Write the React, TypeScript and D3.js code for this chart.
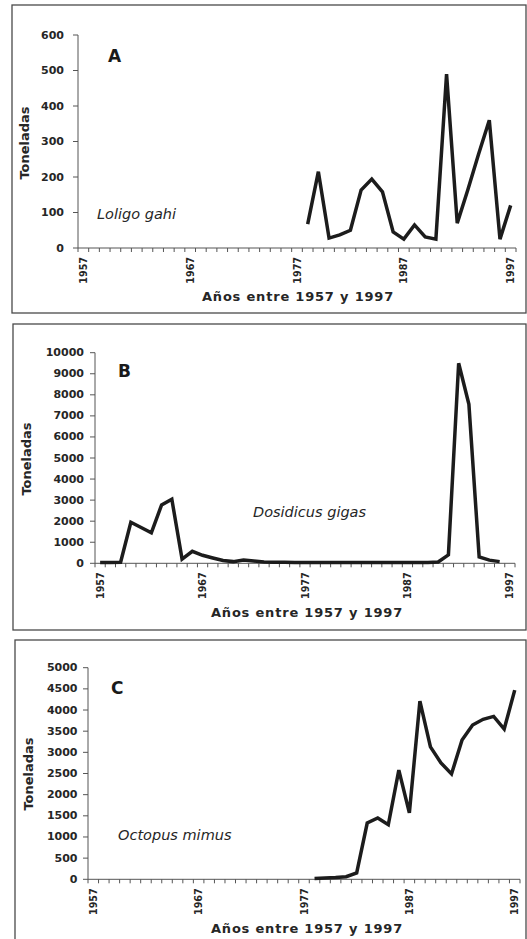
import React from "react";
import * as d3 from "d3";

// categories (one per year)
const years = [
  1957, 1958, 1959, 1960, 1961, 1962, 1963, 1964, 1965, 1966, 1967, 1968, 1969,
  1970, 1971, 1972, 1973, 1974, 1975, 1976, 1977, 1978, 1979, 1980, 1981, 1982,
  1983, 1984, 1985, 1986, 1987, 1988, 1989, 1990, 1991, 1992, 1993, 1994, 1995,
  1996, 1997
];
const yearLabels = [1957, 1967, 1977, 1987, 1997];

// Toneladas por año (null = sin dato)
const loligoTons = [
  null, null, null, null, null, null, null, null, null, null, null, null, null,
  null, null, null, null, null, null, null, null,
  67, 215, 28, 37, 50, 163, 194, 158, 45, 25, 65, 31, 25, 490, 70, 165, 265,
  360, 25, 120
];
const dosidicusTons = [
  40, 40, 50, 1950, 1700, 1450, 2770, 3040, 200, 570, 380, 250, 130, 80, 160,
  110, 60, 50, 50, 40, 40, 40, 40, 40, 40, 40, 40, 40, 40, 40, 40, 40, 40, 60,
  400, 9500, 7550, 300, 150, 80, null
];
const octopusTons = [
  null, null, null, null, null, null, null, null, null, null, null, null, null,
  null, null, null, null, null, null, null, null,
  20, 30, 40, 60, 150, 1330, 1450, 1290, 2580, 1570, 4210, 3130, 2750, 2490,
  3290, 3645, 3780, 3850, 3550, 4470
];

const panelLetters = ["A", "B", "C"];
const speciesNames = ["Loligo gahi", "Dosidicus gigas", "Octopus mimus"];
const yTicksA = [0, 100, 200, 300, 400, 500, 600];
const yTicksB = [0, 1000, 2000, 3000, 4000, 5000, 6000, 7000, 8000, 9000, 10000];
const yTicksC = [0, 500, 1000, 1500, 2000, 2500, 3000, 3500, 4000, 4500, 5000];
const xTitle = "Años entre 1957 y 1997";
const yTitle = "Toneladas";

const boldFont = "'DejaVu Sans', sans-serif";
const ink = "#262626";

const panels = [
  {
    data: loligoTons, ticks: yTicksA,
    box: { x: 12, y: 5, w: 514, h: 308 },
    left: 78, right: 516, top: 35, bottom: 248, labelGap: 9,
    yTitleX: 24, yTitleY: 143, letterX: 108, letterY: 62,
    speciesX: 97, speciesY: 219, xTitleX: 298, xTitleY: 301
  },
  {
    data: dosidicusTons, ticks: yTicksB,
    box: { x: 13, y: 324, w: 513, h: 306 },
    left: 95, right: 515, top: 352.7, bottom: 563.3, labelGap: 6,
    yTitleX: 26, yTitleY: 459, letterX: 118, letterY: 377,
    speciesX: 253, speciesY: 517, xTitleX: 307, xTitleY: 617
  },
  {
    data: octopusTons, ticks: yTicksC,
    box: { x: 15, y: 640, w: 511, h: 310 },
    left: 88, right: 520, top: 667.7, bottom: 879.3, labelGap: 5.5,
    yTitleX: 28, yTitleY: 774, letterX: 111, letterY: 694,
    speciesX: 118, speciesY: 840, xTitleX: 307, xTitleY: 933
  }
];

function Panel({ p, letter, species }) {
  const x = d3.scaleBand().domain(years).range([p.left, p.right]).padding(0);
  const bw = x.bandwidth();
  const cx = (yr) => x(yr) + bw / 2;
  const y = d3
    .scaleLinear()
    .domain([0, p.ticks[p.ticks.length - 1]])
    .range([p.bottom, p.top]);

  const line = d3
    .line()
    .defined((d) => d != null)
    .x((d, i) => cx(years[i]))
    .y((d) => y(d));

  const boundaries = years.map((yr) => x(yr)).concat([p.right]);

  return (
    <g>
      <rect
        x={p.box.x}
        y={p.box.y}
        width={p.box.w}
        height={p.box.h}
        fill="none"
        stroke="#4a4a4a"
        strokeWidth={1.3}
      />

      {/* y axis */}
      <line x1={p.left} x2={p.left} y1={p.top} y2={p.bottom} stroke="#555" strokeWidth={1} />
      {p.ticks.map((t) => (
        <g key={t}>
          <line x1={p.left - 5} x2={p.left} y1={y(t)} y2={y(t)} stroke="#555" strokeWidth={1} />
          <text
            x={p.left - 5 - p.labelGap}
            y={y(t)}
            textAnchor="end"
            dominantBaseline="central"
            fontFamily={boldFont}
            fontWeight="bold"
            fontSize={11}
            fill={ink}
          >
            {t}
          </text>
        </g>
      ))}

      {/* x axis */}
      <line x1={p.left} x2={p.right} y1={p.bottom} y2={p.bottom} stroke="#555" strokeWidth={1} />
      {boundaries.map((bx, i) => (
        <line key={i} x1={bx} x2={bx} y1={p.bottom} y2={p.bottom + 4} stroke="#555" strokeWidth={1} />
      ))}
      {yearLabels.map((yr) => (
        <text
          key={yr}
          transform={`translate(${cx(yr)},${p.bottom + 9}) rotate(-90)`}
          textAnchor="end"
          dominantBaseline="central"
          fontFamily={boldFont}
          fontWeight="bold"
          fontSize={9.6}
          fill={ink}
        >
          {yr}
        </text>
      ))}

      <path d={line(p.data)} fill="none" stroke="#1c1c1c" strokeWidth={3.5} />

      <text
        x={p.letterX}
        y={p.letterY}
        fontFamily={boldFont}
        fontWeight="bold"
        fontSize={17}
        fill="#1a1a1a"
      >
        {letter}
      </text>
      <text
        x={p.speciesX}
        y={p.speciesY}
        fontFamily={boldFont}
        fontStyle="italic"
        fontSize={14.5}
        fill={ink}
      >
        {species}
      </text>
      <text
        transform={`translate(${p.yTitleX},${p.yTitleY}) rotate(-90)`}
        textAnchor="middle"
        dominantBaseline="central"
        fontFamily={boldFont}
        fontWeight="bold"
        fontSize={13}
        fill={ink}
      >
        {yTitle}
      </text>
      <text
        x={p.xTitleX}
        y={p.xTitleY}
        textAnchor="middle"
        fontFamily={boldFont}
        fontWeight="bold"
        fontSize={13}
        letterSpacing={0.8}
        fill={ink}
      >
        {xTitle}
      </text>
    </g>
  );
}

export default function App() {
  return (
    <svg
      width={527}
      height={939}
      style={{ position: "absolute", left: 0, top: 0, background: "#fff" }}
    >
      {panels.map((p, i) => (
        <Panel key={i} p={p} letter={panelLetters[i]} species={speciesNames[i]} />
      ))}
    </svg>
  );
}
